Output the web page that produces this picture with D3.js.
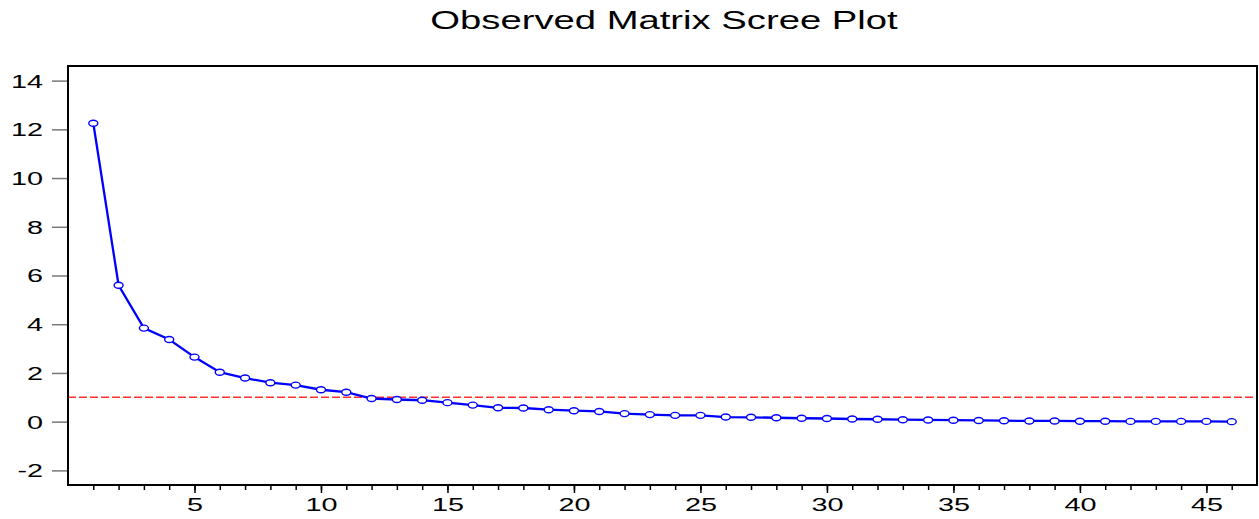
<!DOCTYPE html>
<html>
<head>
<meta charset="utf-8">
<script src="https://cdn.jsdelivr.net/npm/d3@7"></script>
<style>
  body { margin: 0; background: #fff; }
  text { font-family: "Liberation Sans", Arial, sans-serif; fill: #000; }
</style>
</head>
<body>
<div id="chart"></div>
<script>
// data
var components = d3.range(1, 47);
var eigenvalues = [12.25, 5.6, 3.84, 3.37, 2.65, 2.03, 1.79, 1.6, 1.5, 1.31,
                   1.21, 0.95, 0.91, 0.88, 0.78, 0.68, 0.57, 0.56, 0.49, 0.45,
                   0.42, 0.33, 0.29, 0.26, 0.26, 0.19, 0.18, 0.16, 0.14, 0.13,
                   0.11, 0.10, 0.08, 0.07, 0.06, 0.05, 0.04, 0.03, 0.03, 0.02,
                   0.02, 0.01, 0.01, 0.01, 0.01, 0.0];
var yTicks = [-2, 0, 2, 4, 6, 8, 10, 12, 14];
var xLabels = [5, 10, 15, 20, 25, 30, 35, 40, 45];
var cutoff = 1;
var title = "Observed Matrix Scree Plot";

var W = 1259, H = 519;
var margin = {top: 66, right: 2, bottom: 34, left: 68},
    width = W - margin.left - margin.right,
    height = H - margin.top - margin.bottom;

var svg = d3.select("#chart").append("svg")
    .attr("width", W)
    .attr("height", H);

// stretch text wide like the original export
function stretch(sel, k) {
  sel.each(function() {
    var len = this.getComputedTextLength();
    d3.select(this).attr("textLength", len * k).attr("lengthAdjust", "spacingAndGlyphs");
  });
}

svg.append("text")
    .attr("x", 664)
    .attr("y", 29)
    .attr("text-anchor", "middle")
    .style("font-size", "26px")
    .text(title)
    .call(stretch, 1.47);

var g = svg.append("g")
    .attr("transform", "translate(" + margin.left + "," + margin.top + ")");

var x = d3.scaleLinear().domain([0, 47]).range([0, width]);
var y = d3.scaleLinear().domain([-2.6, 14.6]).range([height, 0]);

// y axis: ticks sit outside, left of the frame (plain hyphen for minus)
var yAxis = g.append("g")
    .attr("transform", "translate(-1,0)")
    .call(d3.axisLeft(y).tickValues(yTicks).tickSize(15).tickPadding(9)
        .tickFormat(function(d) { return String(d); }));
yAxis.select(".domain").remove();
yAxis.selectAll("line").attr("stroke", "#777").attr("stroke-width", 1.5);
yAxis.selectAll("text")
    .style("font-size", "18px")
    .attr("dy", "0.36em")
    .call(stretch, 1.6);

// x axis: minor tick every component, longer at the labelled ones
var xMinor = g.append("g")
    .attr("transform", "translate(0," + height + ")")
    .call(d3.axisBottom(x).tickValues(components).tickSize(5).tickFormat(""));
xMinor.select(".domain").remove();
xMinor.selectAll("line").attr("stroke", "#000").attr("stroke-width", 1.5);

var xAxis = g.append("g")
    .attr("transform", "translate(0," + height + ")")
    .call(d3.axisBottom(x).tickValues(xLabels).tickSize(8).tickPadding(5));
xAxis.select(".domain").remove();
xAxis.selectAll("line").attr("stroke", "#000").attr("stroke-width", 1.5);
xAxis.selectAll("text")
    .style("font-size", "18px")
    .call(stretch, 1.6);

// reference line at eigenvalue 1
g.append("line")
    .attr("x1", 0).attr("x2", width)
    .attr("y1", y(cutoff)).attr("y2", y(cutoff))
    .attr("stroke", "#ff3030")
    .attr("stroke-width", 1.6)
    .attr("stroke-dasharray", "8,3");

var pts = components.map(function(c, i) { return {c: c, v: eigenvalues[i]}; });

g.append("path")
    .datum(pts)
    .attr("fill", "none")
    .attr("stroke", "#0000ff")
    .attr("stroke-width", 2.3)
    .attr("d", d3.line()
        .x(function(d) { return x(d.c); })
        .y(function(d) { return y(d.v); }));

g.selectAll(".pt")
    .data(pts)
    .enter().append("ellipse")
    .attr("class", "pt")
    .attr("cx", function(d) { return x(d.c); })
    .attr("cy", function(d) { return y(d.v); })
    .attr("rx", 4.5)
    .attr("ry", 3)
    .attr("fill", "#fff")
    .attr("stroke", "#0000ff")
    .attr("stroke-width", 1.4);

// frame
g.append("rect")
    .attr("x", 0).attr("y", 0)
    .attr("width", width).attr("height", height)
    .attr("fill", "none")
    .attr("stroke", "#000")
    .attr("stroke-width", 2);
</script>
</body>
</html>
